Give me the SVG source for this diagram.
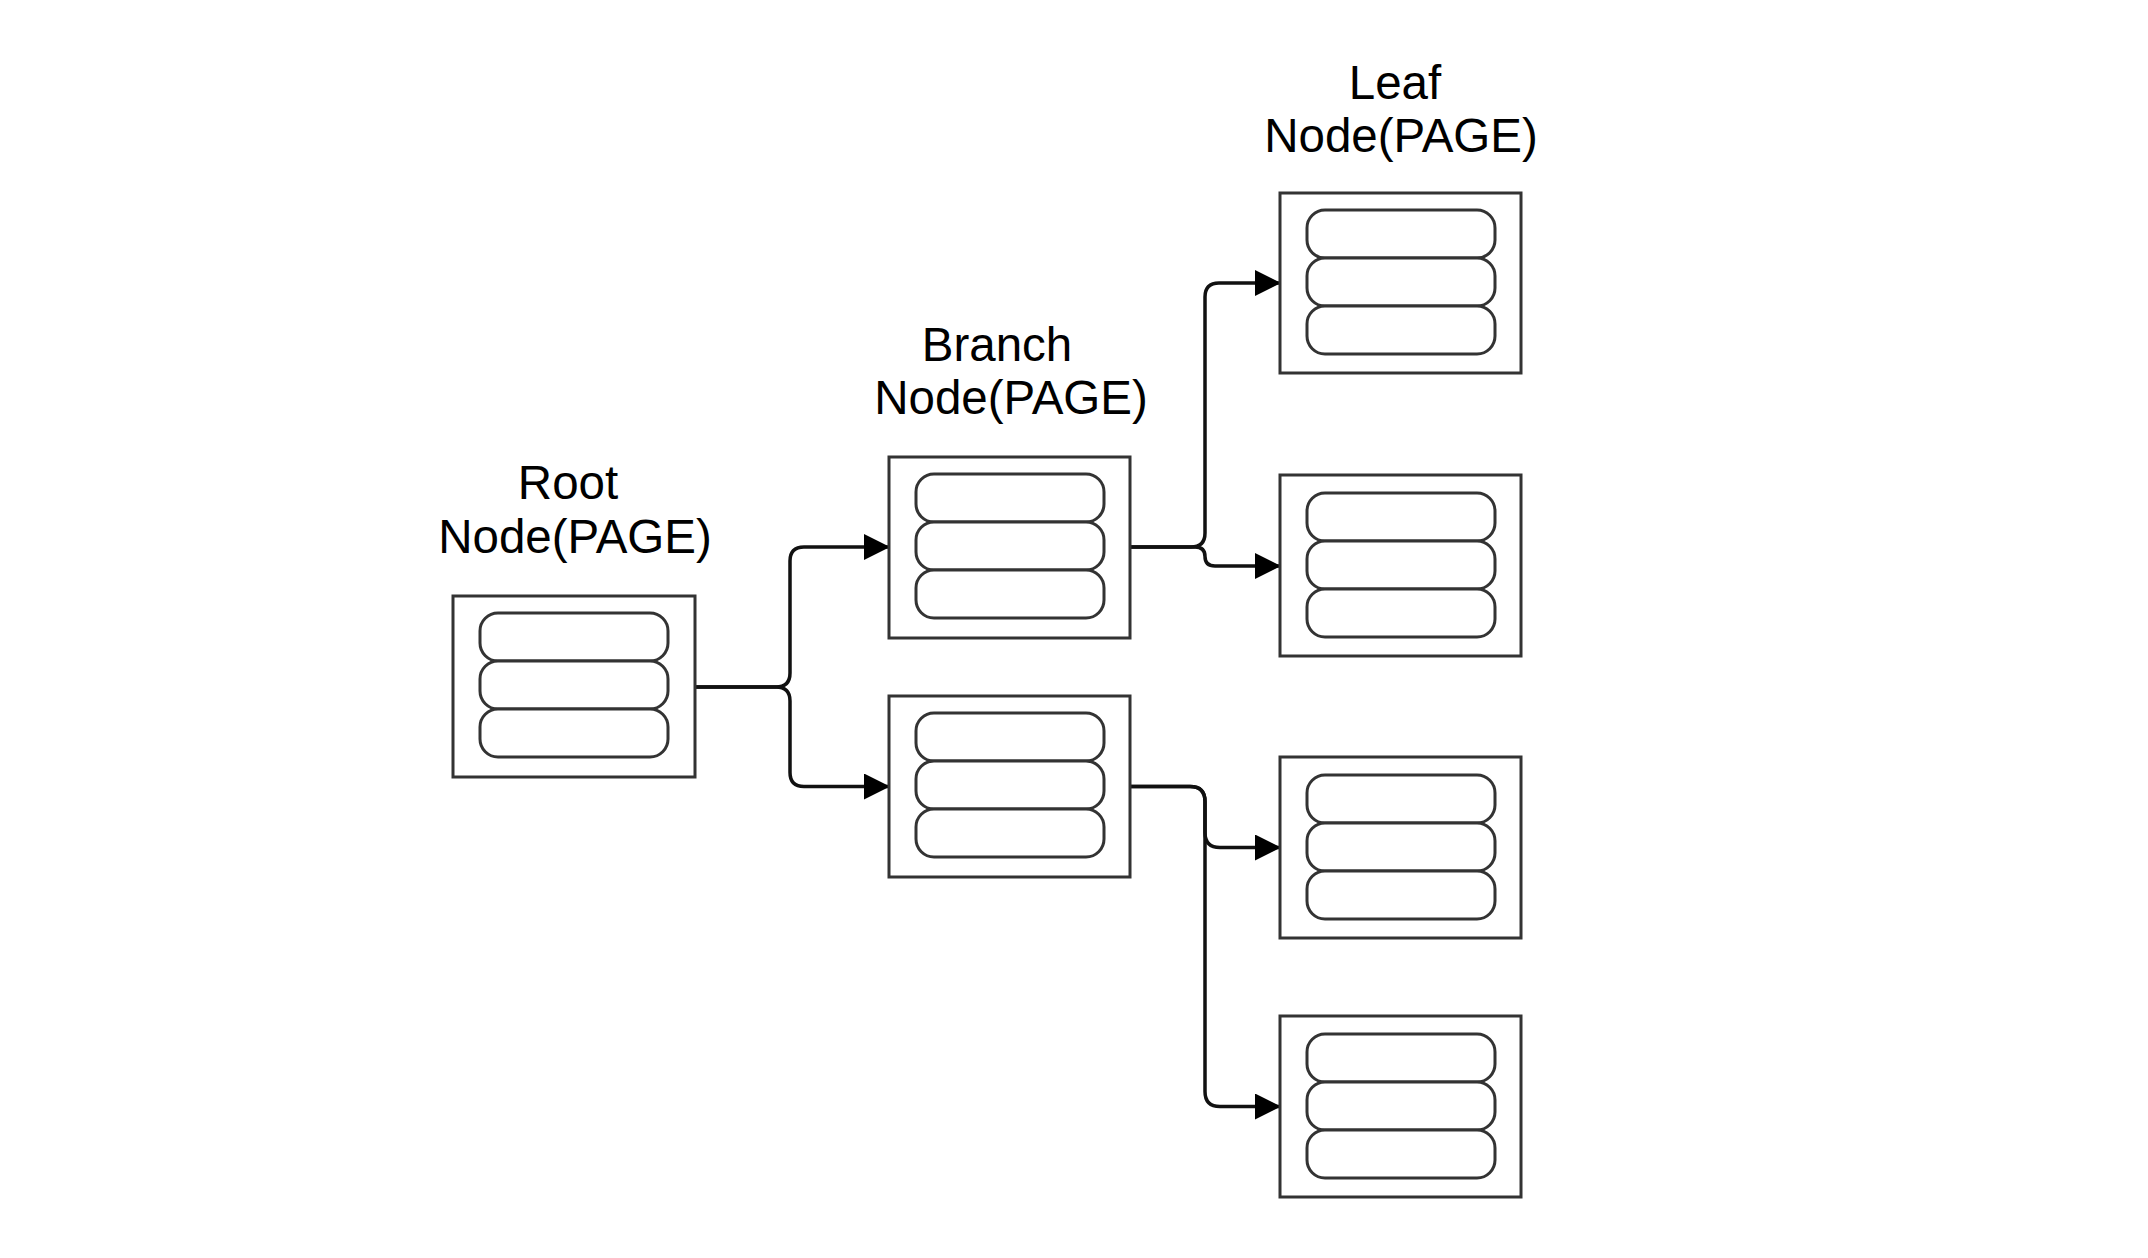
<svg xmlns="http://www.w3.org/2000/svg" width="2148" height="1258" viewBox="0 0 2148 1258">
  <style>
    .box { fill: #ffffff; stroke: #333333; stroke-width: 3; }
    .pill { fill: #ffffff; stroke: #333333; stroke-width: 3; }
    .lbl { font-family: "Liberation Sans", Arial, sans-serif; font-size: 47.5px; fill: #000000; text-anchor: middle; }
    .edge { fill: none; stroke: #111111; stroke-width: 3.5; marker-end: url(#arrow); }
  </style>
  <defs>
    <marker id="arrow" viewBox="0 0 26 26" refX="25" refY="13" markerWidth="26" markerHeight="26" markerUnits="userSpaceOnUse" orient="auto">
      <path d="M0,0 L26,13 L0,26 Z" fill="#000000"/>
    </marker>
  </defs>
  <rect width="2148" height="1258" fill="#ffffff"/>

  <g id="connectors">
    <path class="edge" d="M695,687 H776 Q790,687 790,673 V561 Q790,547 804,547 H889"/>
    <path class="edge" d="M695,687 H776 Q790,687 790,701 V772.5 Q790,786.5 804,786.5 H889"/>
    <path class="edge" d="M1130,547 H1191 Q1205,547 1205,533 V297 Q1205,283 1219,283 H1280"/>
    <path class="edge" d="M1130,547 H1195 Q1205,547 1205,556.5 Q1205,566 1215,566 H1280"/>
    <path class="edge" d="M1130,786.5 H1190 Q1205,786.5 1205,801.5 V832.5 Q1205,847.5 1220,847.5 H1280"/>
    <path class="edge" d="M1130,786.5 H1190 Q1205,786.5 1205,801.5 V1091.5 Q1205,1106.5 1220,1106.5 H1280"/>
  </g>

  <g id="root">
    <text class="lbl" x="568" y="499">Root</text>
    <text class="lbl" x="575" y="553">Node(PAGE)</text>
    <rect class="box" x="453" y="596" width="242" height="181"/>
    <rect class="pill" x="480" y="613" width="188" height="48" rx="18"/>
    <rect class="pill" x="480" y="661" width="188" height="48" rx="18"/>
    <rect class="pill" x="480" y="709" width="188" height="48" rx="18"/>
  </g>

  <g id="branch1">
    <text class="lbl" x="997" y="361">Branch</text>
    <text class="lbl" x="1011" y="414">Node(PAGE)</text>
    <rect class="box" x="889" y="457" width="241" height="181"/>
    <rect class="pill" x="916" y="474" width="188" height="48" rx="18"/>
    <rect class="pill" x="916" y="522" width="188" height="48" rx="18"/>
    <rect class="pill" x="916" y="570" width="188" height="48" rx="18"/>
  </g>

  <g id="branch2">
    <rect class="box" x="889" y="696" width="241" height="181"/>
    <rect class="pill" x="916" y="713" width="188" height="48" rx="18"/>
    <rect class="pill" x="916" y="761" width="188" height="48" rx="18"/>
    <rect class="pill" x="916" y="809" width="188" height="48" rx="18"/>
  </g>

  <g id="leaf1">
    <text class="lbl" x="1395" y="99">Leaf</text>
    <text class="lbl" x="1401" y="152">Node(PAGE)</text>
    <rect class="box" x="1280" y="193" width="241" height="180"/>
    <rect class="pill" x="1307" y="210" width="188" height="48" rx="18"/>
    <rect class="pill" x="1307" y="258" width="188" height="48" rx="18"/>
    <rect class="pill" x="1307" y="306" width="188" height="48" rx="18"/>
  </g>

  <g id="leaf2">
    <rect class="box" x="1280" y="475" width="241" height="181"/>
    <rect class="pill" x="1307" y="493" width="188" height="48" rx="18"/>
    <rect class="pill" x="1307" y="541" width="188" height="48" rx="18"/>
    <rect class="pill" x="1307" y="589" width="188" height="48" rx="18"/>
  </g>

  <g id="leaf3">
    <rect class="box" x="1280" y="757" width="241" height="181"/>
    <rect class="pill" x="1307" y="775" width="188" height="48" rx="18"/>
    <rect class="pill" x="1307" y="823" width="188" height="48" rx="18"/>
    <rect class="pill" x="1307" y="871" width="188" height="48" rx="18"/>
  </g>

  <g id="leaf4">
    <rect class="box" x="1280" y="1016" width="241" height="181"/>
    <rect class="pill" x="1307" y="1034" width="188" height="48" rx="18"/>
    <rect class="pill" x="1307" y="1082" width="188" height="48" rx="18"/>
    <rect class="pill" x="1307" y="1130" width="188" height="48" rx="18"/>
  </g>
</svg>
